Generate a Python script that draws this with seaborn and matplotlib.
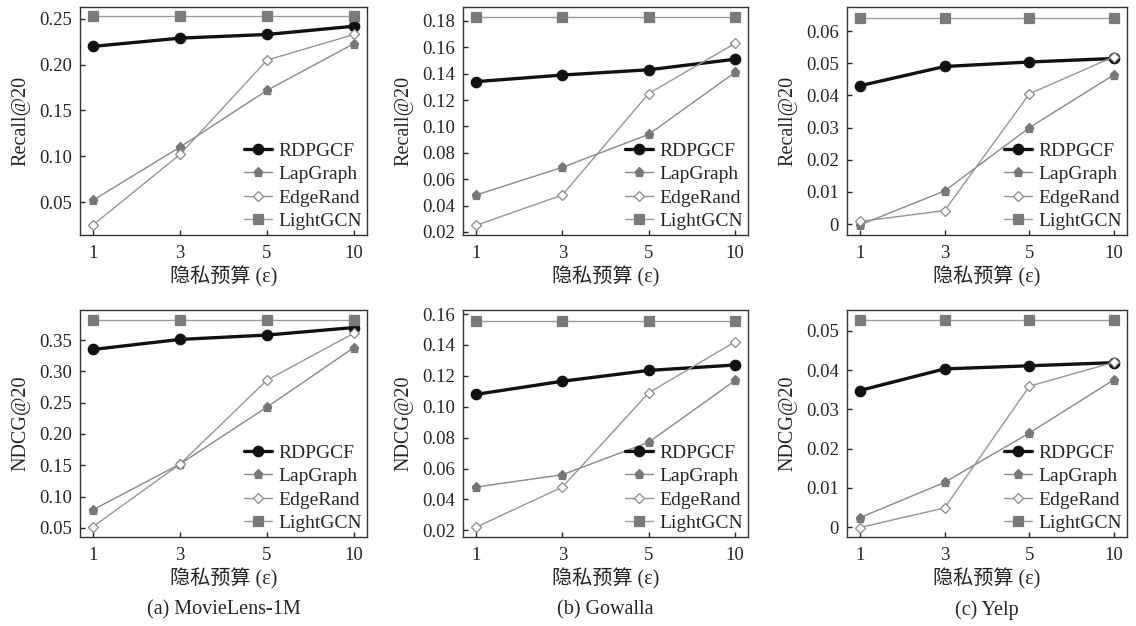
import numpy as np
import pandas as pd
import matplotlib
matplotlib.use("Agg")
import matplotlib.pyplot as plt
import seaborn as sns

# privacy budgets on the x axis
eps = [1, 3, 5, 10]
methods = ["RDPGCF", "LapGraph", "EdgeRand", "LightGCN"]

# Recall@20
ml_recall = {
    "RDPGCF": [0.220, 0.229, 0.233, 0.242],
    "LapGraph": [0.052, 0.110, 0.172, 0.223],
    "EdgeRand": [0.025, 0.102, 0.205, 0.233],
    "LightGCN": [0.253, 0.253, 0.253, 0.253],
}
gw_recall = {
    "RDPGCF": [0.134, 0.139, 0.143, 0.151],
    "LapGraph": [0.048, 0.069, 0.094, 0.141],
    "EdgeRand": [0.025, 0.048, 0.125, 0.163],
    "LightGCN": [0.183, 0.183, 0.183, 0.183],
}
yelp_recall = {
    "RDPGCF": [0.0430, 0.0490, 0.0504, 0.0515],
    "LapGraph": [-0.0003, 0.0103, 0.0300, 0.0465],
    "EdgeRand": [0.0008, 0.0042, 0.0405, 0.0521],
    "LightGCN": [0.0640, 0.0640, 0.0640, 0.0640],
}

# NDCG@20
ml_ndcg = {
    "RDPGCF": [0.335, 0.351, 0.358, 0.370],
    "LapGraph": [0.079, 0.152, 0.243, 0.338],
    "EdgeRand": [0.052, 0.152, 0.286, 0.361],
    "LightGCN": [0.382, 0.382, 0.382, 0.382],
}
gw_ndcg = {
    "RDPGCF": [0.108, 0.1165, 0.1235, 0.127],
    "LapGraph": [0.048, 0.056, 0.077, 0.117],
    "EdgeRand": [0.022, 0.048, 0.109, 0.142],
    "LightGCN": [0.1555, 0.1555, 0.1555, 0.1555],
}
yelp_ndcg = {
    "RDPGCF": [0.0348, 0.0403, 0.0411, 0.0419],
    "LapGraph": [0.0024, 0.0114, 0.0240, 0.0376],
    "EdgeRand": [-0.0001, 0.0049, 0.0359, 0.0420],
    "LightGCN": [0.0527, 0.0527, 0.0527, 0.0527],
}

recall_ticks = [
    [0.05, 0.10, 0.15, 0.20, 0.25],
    [0.02, 0.04, 0.06, 0.08, 0.10, 0.12, 0.14, 0.16, 0.18],
    [0, 0.01, 0.02, 0.03, 0.04, 0.05, 0.06],
]
ndcg_ticks = [
    [0.05, 0.10, 0.15, 0.20, 0.25, 0.30, 0.35],
    [0.02, 0.04, 0.06, 0.08, 0.10, 0.12, 0.14, 0.16],
    [0, 0.01, 0.02, 0.03, 0.04, 0.05],
]
recall_lims = [(0.014, 0.263), (0.0177, 0.1906), (-0.0034, 0.0675)]
ndcg_lims = [(0.0355, 0.398), (0.0157, 0.1626), (-0.0025, 0.0553)]
captions = ["(a) MovieLens-1M", "(b) Gowalla", "(c) Yelp"]

styles = {
    "RDPGCF": dict(color="#111111", marker="o", lw=2.4, ms=7.5, mfc="#111111", mec="#111111"),
    "LapGraph": dict(color="#888888", marker="p", lw=1.0, ms=6.5, mfc="#777777", mec="#777777"),
    "EdgeRand": dict(color="#959595", marker="D", lw=1.0, ms=5.5, mfc="white", mec="#888888"),
    "LightGCN": dict(color="#9c9c9c", marker="s", lw=1.0, ms=6.5, mfc="#7a7a7a", mec="#7a7a7a"),
}

sns.set_style("ticks")
plt.rcParams["font.family"] = ["Liberation Serif", "Noto Sans CJK SC"]
plt.rcParams["font.size"] = 14
plt.rcParams["axes.edgecolor"] = "#333333"
plt.rcParams["xtick.direction"] = "in"
plt.rcParams["ytick.direction"] = "in"

fig = plt.figure(figsize=(11.36, 6.26), dpi=100)

lefts = [80, 463, 847]
widths = [287, 285, 280]
rows = [(7, 235), (310, 537)]
W, H = 1136, 626


def draw_panel(ax, data, ticks, lims, ylabel):
    pos = np.arange(len(eps))
    for m in methods:
        st = styles[m]
        df = pd.DataFrame({"x": pos, "y": data[m]})
        sns.lineplot(data=df, x="x", y="y", ax=ax, color=st["color"], marker=st["marker"],
                     linewidth=st["lw"], markersize=st["ms"], markerfacecolor=st["mfc"],
                     markeredgecolor=st["mec"], markeredgewidth=0.9, label=m)
    ax.set_xlim(-0.15, len(eps) - 1 + 0.15)
    ax.set_xticks(pos)
    ax.set_xticklabels([str(e) for e in eps])
    ax.set_ylim(*lims)
    ax.set_yticks(ticks)
    ax.set_yticklabels(["0" if t == 0 else f"{t:.2f}" for t in ticks])
    ax.tick_params(axis="x", length=3.5, width=1, labelsize=13.5, pad=7)
    ax.tick_params(axis="y", length=3.5, width=1, labelsize=13.5, pad=6)
    ax.set_xlabel("隐私预算 (ε)", fontsize=14.5, labelpad=3)
    ax.set_ylabel("" + ylabel, fontsize=14.5, labelpad=6)
    for s in ax.spines.values():
        s.set_linewidth(1.0)
    ax.legend(loc="lower right", frameon=False, fontsize=14, handlelength=1.4,
              handletextpad=0.35, labelspacing=0.3, borderaxespad=0.15, borderpad=0.1)


recall_sets = [ml_recall, gw_recall, yelp_recall]
ndcg_sets = [ml_ndcg, gw_ndcg, yelp_ndcg]

for i in range(3):
    for r, (top, bot) in enumerate(rows):
        ax = fig.add_axes([lefts[i] / W, 1 - bot / H, widths[i] / W, (bot - top) / H])
        if r == 0:
            draw_panel(ax, recall_sets[i], recall_ticks[i], recall_lims[i], "Recall@20")
        else:
            draw_panel(ax, ndcg_sets[i], ndcg_ticks[i], ndcg_lims[i], "NDCG@20")
    cx = (lefts[i] + widths[i] / 2) / W
    fig.text(cx, 1 - 610 / H, captions[i], ha="center", va="center", fontsize=14.5)

fig.savefig("out.png", dpi=100)
